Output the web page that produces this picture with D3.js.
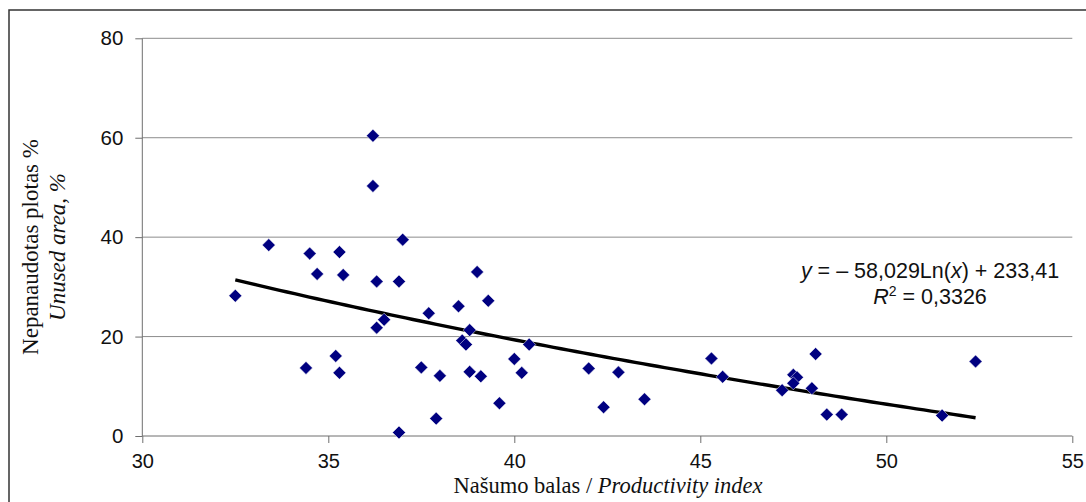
<!DOCTYPE html>
<html><head><meta charset="utf-8">
<script src="https://cdn.jsdelivr.net/npm/d3@7"></script>
<style>body{margin:0;background:#fff}svg{display:block}</style>
</head><body>
<svg id="c" width="1086" height="502"></svg>
<script>
const xVals = [32.5,33.4,34.5,34.7,35.3,35.4,34.4,35.2,35.3,36.2,36.2,36.3,36.3,36.5,37.0,36.9,36.9,37.7,37.5,38.0,37.9,38.5,39.0,39.3,38.8,38.6,38.7,38.8,39.1,39.6,40.0,40.2,40.4,42.0,42.8,42.4,43.5,45.3,45.6,47.2,47.5,47.6,47.5,48.0,48.1,48.4,48.8,51.5,52.4];
const yVals = [28.2,38.4,36.7,32.6,37.0,32.4,13.7,16.1,12.7,60.4,50.3,31.1,21.8,23.4,39.5,31.1,0.7,24.7,13.8,12.1,3.5,26.1,33.0,27.2,21.3,19.2,18.4,12.9,12.0,6.6,15.5,12.7,18.4,13.6,12.8,5.8,7.4,15.6,11.9,9.2,12.3,11.8,10.6,9.6,16.5,4.3,4.3,4.1,15.0];
const xTicks = [30,35,40,45,50,55];
const yTicks = [0,20,40,60,80];
const trendA = -58.029, trendB = 233.41;

const svg = d3.select("#c");
svg.append("rect").attr("x",9).attr("y",10).attr("width",1090).attr("height",500)
  .attr("fill","none").attr("stroke","#333").attr("stroke-width",1.5);

const x = d3.scaleLinear().domain([30,55]).range([142.3,1072.3]);
const y = d3.scaleLinear().domain([0,80]).range([436,38.3]);
const sans = "Arial, 'Liberation Sans', sans-serif";
const serif = "'Liberation Serif','Times New Roman',serif";

// gridlines
svg.append("g").selectAll("line").data(yTicks.filter(d=>d>0)).join("line")
  .attr("x1",x(30)).attr("x2",x(55)).attr("y1",d=>y(d)).attr("y2",d=>y(d))
  .attr("stroke","#8c8c8c").attr("stroke-width",1);

// y axis
const ya = svg.append("g").attr("transform",`translate(${x(30)},0)`)
  .call(d3.axisLeft(y).tickValues(yTicks).tickSize(7).tickPadding(12));
ya.select(".domain").attr("stroke","#6e6e6e").attr("d",`M0,${y(80)}V${y(0)}`);
ya.selectAll(".tick line").attr("stroke","#6e6e6e");
ya.selectAll("text").attr("font-family",sans).attr("font-size",20.5).attr("fill","#111");

// x axis
const xa = svg.append("g").attr("transform",`translate(0,${y(0)})`)
  .call(d3.axisBottom(x).tickValues(xTicks).tickSize(7).tickPadding(11));
xa.select(".domain").attr("stroke","#6e6e6e").attr("d",`M${x(30)},0H${x(55)}`);
xa.selectAll(".tick line").attr("stroke","#6e6e6e");
xa.selectAll("text").attr("font-family",sans).attr("font-size",20).attr("fill","#111");

// trend line
const tx = d3.range(0,101).map(i=>32.5 + (52.4-32.5)*i/100);
const line = d3.line().x(d=>x(d)).y(d=>y(trendA*Math.log(d)+trendB));
svg.append("path").datum(tx).attr("d",line).attr("fill","none")
  .attr("stroke","#000").attr("stroke-width",3.4);

// points
const pts = xVals.map((v,i)=>[v,yVals[i]]);
const s = 6.5;
svg.append("g").selectAll("path").data(pts).join("path")
  .attr("d",d=>{const cx=x(d[0]),cy=y(d[1]);return `M${cx},${cy-s}L${cx+s},${cy}L${cx},${cy+s}L${cx-s},${cy}Z`;})
  .attr("fill","#000080").attr("stroke","#fff").attr("stroke-width",0.5);

// equation
const eq = svg.append("text").attr("font-family",sans)
  .attr("font-size",21.5).attr("fill","#111").attr("text-anchor","middle");
const l1 = eq.append("tspan").attr("x",930).attr("y",278);
l1.append("tspan").attr("font-style","italic").text("y");
l1.append("tspan").text(" = – 58,029Ln(");
l1.append("tspan").attr("font-style","italic").text("x");
l1.append("tspan").text(") + 233,41");
const l2 = eq.append("tspan").attr("x",930).attr("y",304);
l2.append("tspan").attr("font-style","italic").text("R");
l2.append("tspan").attr("font-size",14).attr("dy",-8).text("2");
l2.append("tspan").attr("dy",8).text(" = 0,3326");

// x title
const xt = svg.append("text").attr("x",608).attr("y",493).attr("text-anchor","middle")
  .attr("font-family",serif).attr("font-size",22.5).attr("fill","#111");
xt.append("tspan").text("Našumo balas / ");
xt.append("tspan").attr("font-style","italic").text("Productivity index");

// y title
const yt = svg.append("g").attr("transform","translate(0,247) rotate(-90)");
yt.append("text").attr("x",0).attr("y",37.5).attr("text-anchor","middle")
  .attr("font-family",serif).attr("font-size",23).attr("fill","#111")
  .text("Nepanaudotas plotas %");
yt.append("text").attr("x",0).attr("y",65).attr("text-anchor","middle")
  .attr("font-family",serif).attr("font-size",23).attr("font-style","italic").attr("fill","#111")
  .text("Unused area, %");
</script>
</body></html>
